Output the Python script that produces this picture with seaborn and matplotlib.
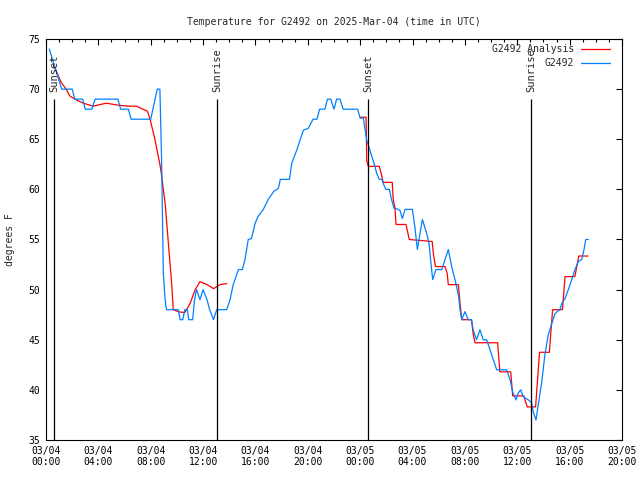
import pandas as pd
import numpy as np
import seaborn as sns
import matplotlib.pyplot as plt
import matplotlib.dates as mdates

# hours after 2025-03-04 00:00 UTC
obs_hours = [0.25, 1.2, 2.0, 2.2, 2.8, 3.0, 3.5, 3.75, 5.5, 5.7, 6.3, 6.5, 8.0, 8.5, 8.7,
             8.84, 8.96, 9.1, 9.2, 10.1, 10.25, 10.45, 10.6, 10.8, 10.9, 11.2, 11.35, 11.5,
             11.76, 12.0, 12.3, 12.5, 12.8, 13.04, 13.8, 14.06, 14.3, 14.7, 15.0, 15.2,
             15.45, 15.7, 15.97, 16.2, 16.6, 16.98, 17.4, 17.75, 17.9, 18.6, 18.77, 19.15,
             19.66, 20.04, 20.4, 20.7, 20.9, 21.3, 21.5, 21.75, 22.0, 22.2, 22.46, 22.7,
             23.8, 24.0, 24.25, 24.33, 24.5, 24.7, 24.88, 25.06, 25.26, 25.46, 25.65, 25.82,
             25.97, 26.23, 26.41, 26.59, 26.74, 27.04, 27.22, 27.43, 27.99, 28.19, 28.37,
             28.57, 28.75, 29.08, 29.26, 29.41, 29.54, 29.79, 30.23, 30.48, 30.73, 30.99,
             31.24, 31.5, 31.63, 31.76, 32.0, 32.26, 32.51, 32.63, 32.89, 33.15, 33.4, 33.66,
             33.92, 34.17, 34.43, 35.19, 35.45, 35.65, 35.9, 36.08, 36.26, 36.46, 36.85,
             37.1, 37.22, 37.43, 37.6, 37.86, 38.12, 38.37, 38.63, 38.88, 39.13, 39.26,
             39.39, 39.64, 39.9, 40.16, 40.41, 40.66, 40.92, 41.1, 41.23, 41.43]
obs_temp = [74, 70, 70, 69, 69, 68, 68, 69, 69, 68, 68, 67, 67, 70, 70,
            62.3, 51.7, 49, 48, 48, 47, 47, 48, 48, 47, 47, 49, 50,
            49, 50, 49, 48, 47, 48, 48, 49, 50.5, 52, 52, 53,
            55, 55.1, 56.6, 57.3, 58, 59, 59.8, 60.1, 61, 61, 62.6, 63.9,
            65.9, 66.1, 67, 67, 68, 68, 69, 69, 68, 69, 69, 68,
            68, 67.1, 67.1, 66.3, 64.9, 64.1, 63.3, 62.6, 61.6, 61.0, 61.0, 60.4,
            60.0, 60.0, 58.9, 58.1, 58.1, 57.9, 57.1, 58.0, 58.0, 56.1, 54.0,
            55.6, 57.0, 55.6, 54.6, 52.6, 51.0, 52.0, 52.0, 53, 54.0, 52.3,
            51, 49.5, 48, 47, 47.8, 47, 47, 46, 45, 46, 45, 45,
            44, 43, 42, 42, 41, 39.8, 39, 39.7, 40, 39.3, 39,
            38.7, 37.8, 37.0, 38.5, 40.7, 43.6, 45.5, 46.6, 47.6, 47.9, 48,
            48.6, 49.1, 50, 51, 52, 52.8, 53, 54, 55, 55]

ana1_hours = [0.55, 1.15, 1.58, 1.83, 2.34, 2.85, 3.6, 4.6, 5.5, 6.3, 6.9, 7.4, 7.75, 7.95,
              8.3, 8.7, 8.84, 9.1, 9.35, 9.6, 9.72, 10.1, 10.6, 11.0, 11.4, 11.76, 12.3,
              12.8, 13.3, 13.8]
ana1_temp = [72.5, 70.7, 69.9, 69.3, 68.9, 68.6, 68.3, 68.6, 68.4, 68.3, 68.3, 68.0, 67.8, 67.0,
             65.1, 62.5, 61.3, 58.6, 54.6, 50.6, 48, 47.8, 47.7, 48.6, 50, 50.8, 50.5,
             50.1, 50.5, 50.6]
ana2_hours = [24.0, 24.45, 24.5, 24.62, 25.46, 25.6, 25.76, 26.45, 26.52, 26.65, 26.74, 27.5,
              27.75, 29.5, 29.6, 29.75, 30.48, 30.65, 30.73, 31.5, 31.63, 31.76, 32.5, 32.63,
              32.77, 34.5, 34.67, 35.5, 35.65, 36.5, 36.76, 37.4, 37.7, 38.45, 38.7, 39.45,
              39.65, 40.4, 40.7, 41.4]
ana2_temp = [67.2, 67.2, 62.9, 62.3, 62.3, 61.6, 60.7, 60.7, 59.0, 58.2, 56.5, 56.5,
             55.0, 54.8, 53.5, 52.3, 52.3, 51.6, 50.5, 50.5, 48.6, 47.0, 47.0, 45.6,
             44.7, 44.7, 41.8, 41.8, 39.4, 39.4, 38.3, 38.3, 43.75, 43.75, 48.0, 48.0,
             51.3, 51.3, 53.35, 53.35]

sun_hours = [0.63, 13.09, 24.62, 37.05]
sun_labels = ['Sunset', 'Sunrise', 'Sunset', 'Sunrise']

start = pd.Timestamp('2025-03-04 00:00')


def to_df(hours, temps):
    return pd.DataFrame({'time': start + pd.to_timedelta(hours, unit='h'), 'temp': temps})


obs = to_df(obs_hours, obs_temp)
ana1 = to_df(ana1_hours, ana1_temp)
ana2 = to_df(ana2_hours, ana2_temp)
sun_times = start + pd.to_timedelta(sun_hours, unit='h')

sns.set_style("white")
plt.rcParams['font.family'] = ['DejaVu Sans Mono']
plt.rcParams['font.size'] = 7

fig = plt.figure(figsize=(6.4, 4.8), dpi=100)
ax = fig.add_axes([46 / 640, 40 / 480, 576 / 640, 401 / 480])

red = '#ff0000'
blue = '#0080ff'
sns.lineplot(data=ana1, x='time', y='temp', color=red, lw=0.9, label='G2492 Analysis',
             sort=False, legend=False, ax=ax)
sns.lineplot(data=ana2, x='time', y='temp', color=red, lw=0.9, label='_nolegend_',
             sort=False, legend=False, ax=ax)
sns.lineplot(data=obs, x='time', y='temp', color=blue, lw=0.9, label='G2492',
             sort=False, legend=False, ax=ax)

ax.vlines(sun_times, 35, 69, color='black', lw=0.9)
for t, lab in zip(sun_times, sun_labels):
    ax.text(t, 69.7, lab, rotation=90, ha='center', va='bottom', fontsize=7.5)

ax.set_xlim(start, start + pd.Timedelta(hours=44))
ax.set_ylim(35, 75)
ax.set_yticks(np.arange(35, 76, 5))
ax.xaxis.set_major_locator(mdates.HourLocator(byhour=[0, 4, 8, 12, 16, 20]))
ax.xaxis.set_minor_locator(mdates.HourLocator())
ax.xaxis.set_major_formatter(mdates.DateFormatter('%m/%d\n%H:%M'))
ax.tick_params(which='both', direction='in', top=True, right=True, labelsize=7,
               colors='black', width=0.8)
ax.tick_params(which='major', length=4.5, pad=4)
ax.tick_params(which='minor', length=2.5)
for s in ax.spines.values():
    s.set_color('black')
    s.set_linewidth(0.8)

ax.set_xlabel('')
ax.set_ylabel('degrees F', fontsize=7)
ax.yaxis.set_label_coords(-0.054, 0.5)
ax.set_title('Temperature for G2492 on 2025-Mar-04 (time in UTC)', fontsize=7, pad=10)

ax.legend(loc='upper right', bbox_to_anchor=(0.979, 0.9875), frameon=False,
          markerfirst=False, borderpad=0, borderaxespad=0, handlelength=3,
          handletextpad=0.7, labelspacing=0.45, fontsize=7)

fig.savefig('out.png', dpi=100)
